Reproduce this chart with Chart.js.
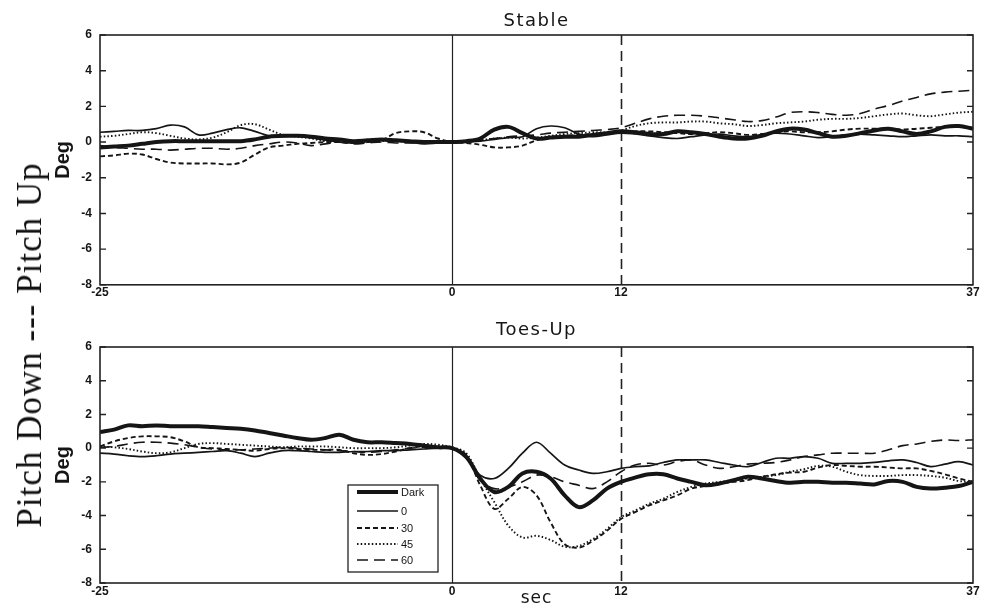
<!DOCTYPE html>
<html>
<head>
<meta charset="utf-8">
<script src="https://cdn.jsdelivr.net/npm/chart.js@4.4.0/dist/chart.umd.min.js"></script>
<style>
  html, body { margin: 0; padding: 0; background: #fff; }
  #page { position: relative; width: 988px; height: 608px; overflow: hidden; }
  .panel { position: absolute; left: 0; width: 988px; }
  #stableBox { top: 0; height: 300px; }
  #toesBox { top: 300px; height: 308px; }
  #sideLabel {
    position: absolute; left: 30px; top: 345px;
    transform: translate(-50%, -50%) rotate(-90deg);
    font-family: "Liberation Serif", "Times New Roman", serif;
    font-size: 35px; letter-spacing: 1px; white-space: nowrap; color: #111;
  }
</style>
</head>
<body>
<div id="page">
  <div class="panel" id="stableBox"><canvas id="stableChart"></canvas></div>
  <div class="panel" id="toesBox"><canvas id="toesChart"></canvas></div>
  <div id="sideLabel">Pitch Down --- Pitch Up</div>
</div>
<script>
// --- Data (seconds, degrees) ---
const time = [-25, -24, -23, -22, -21, -20, -19, -18, -17, -16, -15, -14, -13, -12, -11, -10,
  -9, -8, -7, -6, -5, -4, -3, -2, -1, 0, 1, 2, 3, 4, 5, 6, 7, 8, 9, 10, 11, 12, 13, 14, 15,
  16, 17, 18, 19, 20, 21, 22, 23, 24, 25, 26, 27, 28, 29, 30, 31, 32, 33, 34, 35, 36, 37];

const seriesNames = ['Dark', '0', '30', '45', '60'];
const xTickValues = [-25, 0, 12, 37];
const yMin = -8, yMax = 6, yStep = 2;
const markerLines = [0, 12];

// Stable surface
const stableDark = [-0.3, -0.25, -0.2, -0.1, 0.0, 0.05, 0.05, 0.05, 0.05, 0.05, 0.05, 0.15, 0.3, 0.35, 0.35, 0.3,
  0.2, 0.15, 0.05, 0.1, 0.15, 0.1, 0.05, 0.0, 0.0, 0.0, 0.05, 0.2, 0.7, 0.85, 0.5, 0.2, 0.25, 0.3, 0.3, 0.4, 0.5, 0.6,
  0.55, 0.45, 0.45, 0.6, 0.55, 0.45, 0.3, 0.2, 0.2, 0.35, 0.6, 0.75, 0.7, 0.5, 0.3, 0.35, 0.5, 0.65, 0.75, 0.6, 0.45,
  0.6, 0.85, 0.9, 0.75];
const stable0 = [0.55, 0.6, 0.65, 0.65, 0.75, 0.95, 0.85, 0.4, 0.5, 0.7, 0.8, 0.6, 0.35, 0.3, 0.35, 0.25,
  0.1, 0.0, -0.05, 0.05, 0.1, 0.05, 0.0, -0.1, -0.05, 0.0, 0.0, 0.05, 0.15, 0.25, 0.3, 0.75, 0.9, 0.8, 0.45, 0.3, 0.4,
  0.5, 0.45, 0.35, 0.25, 0.2, 0.3, 0.4, 0.45, 0.35, 0.3, 0.4, 0.5, 0.45, 0.35, 0.25, 0.3, 0.4, 0.45, 0.4, 0.35, 0.3,
  0.35, 0.4, 0.35, 0.35, 0.3];
const stable30 = [-0.8, -0.75, -0.65, -0.7, -0.95, -1.15, -1.2, -1.2, -1.2, -1.25, -1.15, -0.7, -0.3, -0.2, -0.1, -0.05,
  0.0, 0.0, -0.05, 0.0, 0.1, 0.5, 0.6, 0.55, 0.2, 0.0, -0.05, -0.15, -0.3, -0.3, -0.2, 0.1, 0.3, 0.35, 0.4, 0.45, 0.5,
  0.55, 0.6, 0.6, 0.55, 0.5, 0.45, 0.5, 0.55, 0.5, 0.4, 0.45, 0.55, 0.6, 0.55, 0.55, 0.6, 0.7, 0.75, 0.75, 0.75, 0.7,
  0.75, 0.8, 0.85, 0.85, 0.8];
const stable45 = [0.3, 0.35, 0.45, 0.55, 0.5, 0.35, 0.2, 0.15, 0.25, 0.55, 0.95, 1.0, 0.7, 0.4, 0.3, 0.2,
  0.05, 0.1, 0.05, 0.0, 0.05, 0.1, 0.05, 0.0, 0.0, 0.0, 0.0, 0.1, 0.2, 0.25, 0.2, 0.25, 0.35, 0.45, 0.5, 0.55, 0.55,
  0.65, 0.9, 1.05, 1.1, 1.1, 1.15, 1.15, 1.05, 1.0, 0.9, 0.95, 1.05, 1.1, 1.15, 1.25, 1.3, 1.3, 1.35, 1.45, 1.55, 1.6,
  1.5, 1.45, 1.55, 1.65, 1.7];
const stable60 = [-0.2, -0.3, -0.35, -0.4, -0.4, -0.45, -0.4, -0.35, -0.35, -0.4, -0.35, -0.2, -0.1, 0.0, -0.05, -0.2,
  -0.1, 0.0, -0.1, -0.05, 0.0, -0.05, -0.05, 0.0, 0.0, 0.0, 0.05, 0.1, 0.2, 0.3, 0.35, 0.4, 0.5, 0.55, 0.6, 0.65, 0.7,
  0.8, 1.05, 1.3, 1.45, 1.5, 1.5, 1.45, 1.35, 1.25, 1.15, 1.2, 1.4, 1.65, 1.7, 1.65, 1.55, 1.5, 1.6, 1.85, 2.05, 2.3,
  2.5, 2.7, 2.8, 2.85, 2.9];

// Toes-up surface
const toesDark = [0.95, 1.1, 1.35, 1.3, 1.35, 1.3, 1.3, 1.3, 1.25, 1.2, 1.15, 1.05, 0.9, 0.75, 0.6, 0.5,
  0.6, 0.8, 0.5, 0.35, 0.35, 0.3, 0.25, 0.15, 0.05, 0.0, -0.5, -1.8, -2.6, -2.3, -1.5, -1.4, -1.8, -2.8, -3.5, -3.1, -2.4,
  -2.0, -1.75, -1.55, -1.55, -1.8, -2.0, -2.2, -2.1, -1.9, -1.7, -1.8, -1.95, -2.05, -2.0, -2.0, -2.05, -2.05, -2.1,
  -2.15, -1.95, -2.0, -2.3, -2.4, -2.35, -2.25, -2.0];
const toes0 = [-0.3, -0.35, -0.45, -0.5, -0.45, -0.35, -0.3, -0.25, -0.2, -0.15, -0.3, -0.5, -0.3, -0.15, -0.15, -0.2,
  -0.25, -0.25, -0.2, -0.2, -0.15, -0.15, -0.1, -0.05, 0.0, 0.0, -0.6, -1.6, -1.8, -1.2, -0.3, 0.35, -0.3, -1.0, -1.3,
  -1.5, -1.4, -1.2, -1.1, -1.05, -0.85, -0.7, -0.7, -0.7, -0.85, -1.0, -1.1, -0.85, -0.6, -0.6, -0.5, -0.6, -0.9, -0.9,
  -0.9, -0.85, -0.75, -0.7, -0.85, -1.1, -0.95, -0.8, -1.0];
const toes30 = [0.1, 0.4, 0.6, 0.7, 0.7, 0.65, 0.4, 0.05, 0.0, -0.05, -0.1, -0.15, -0.05, 0.0, -0.05, -0.1,
  -0.1, -0.1, -0.3, -0.4, -0.35, -0.2, 0.0, 0.1, 0.05, 0.0, -0.4, -2.2, -3.6, -3.0, -2.3, -2.8, -4.4, -5.7, -5.9, -5.5,
  -4.9, -4.2, -3.8, -3.4, -3.1, -2.8, -2.4, -2.25, -2.1, -2.0, -1.9, -1.7, -1.55, -1.45, -1.4, -1.15, -1.0, -1.05, -1.1,
  -1.1, -1.15, -1.2, -1.2, -1.35, -1.55, -1.8, -2.0];
const toes45 = [0.1, 0.05, -0.05, -0.2, -0.3, -0.25, 0.0, 0.25, 0.3, 0.25, 0.2, 0.15, 0.1, 0.05, 0.1, 0.1,
  0.1, 0.05, 0.0, 0.0, 0.0, 0.05, 0.15, 0.25, 0.2, 0.05, -0.3, -1.8, -3.2, -4.6, -5.3, -5.2, -5.45, -5.85, -5.8, -5.4,
  -4.8, -4.1, -3.7, -3.3, -3.0, -2.6, -2.3, -2.1, -2.0, -1.9, -1.8, -1.7, -1.6, -1.4, -1.25, -1.05, -1.1, -1.4, -1.6,
  -1.65, -1.65, -1.6, -1.6, -1.65, -1.75, -1.95, -2.0];
const toes60 = [0.05, 0.1, 0.25, 0.35, 0.35, 0.3, 0.2, 0.05, -0.05, -0.1, -0.1, -0.05, 0.0, 0.05, 0.0, -0.05,
  -0.1, -0.15, -0.2, -0.25, -0.2, -0.1, 0.0, 0.05, 0.05, 0.0, -0.5, -1.9, -2.4, -2.3, -2.0, -1.6, -1.7, -2.0, -2.2, -2.4,
  -2.0, -1.4, -1.0, -0.9, -1.0, -0.8, -0.7, -1.0, -1.2, -1.1, -0.95, -0.9, -0.85, -0.7, -0.5, -0.4, -0.3, -0.3, -0.3,
  -0.3, -0.1, 0.15, 0.25, 0.4, 0.48, 0.45, 0.5];

// --- Line styles per condition ---
const INK = '#151515';
const lineStyles = {
  'Dark': { width: 4, dash: [] },
  '0':    { width: 1.7, dash: [] },
  '30':   { width: 1.9, dash: [5, 3] },
  '45':   { width: 1.9, dash: [1.5, 2.2] },
  '60':   { width: 1.6, dash: [11, 6] }
};

function buildDatasets(seriesList) {
  return seriesList.map((values, idx) => {
    const name = seriesNames[idx];
    const st = lineStyles[name];
    return {
      label: name,
      data: time.map((t, i) => ({ x: t, y: values[i] })),
      borderColor: INK,
      backgroundColor: 'transparent',
      borderWidth: st.width,
      borderDash: st.dash,
      pointRadius: 0,
      tension: 0.35,
      order: name === 'Dark' ? 0 : 1
    };
  });
}

// --- Panel decoration: frame, inward ticks, marker lines, texts, legend ---
const panelDecor = {
  id: 'panelDecor',
  beforeDatasetsDraw(chart) {
    const { ctx, chartArea: a, scales } = chart;
    ctx.save();
    ctx.strokeStyle = '#222';
    markerLines.forEach(v => {
      const px = Math.round(scales.x.getPixelForValue(v)) + 0.5;
      ctx.lineWidth = v === 0 ? 1.2 : 1.6;
      ctx.setLineDash(v === 0 ? [] : [10, 6]);
      ctx.beginPath();
      ctx.moveTo(px, a.top);
      ctx.lineTo(px, a.bottom);
      ctx.stroke();
    });
    ctx.restore();
  },
  afterDatasetsDraw(chart) {
    const { ctx, chartArea: a, scales } = chart;
    ctx.save();
    ctx.strokeStyle = '#222';
    ctx.lineWidth = 1.6;
    ctx.setLineDash([]);
    ctx.strokeRect(a.left, a.top, a.right - a.left, a.bottom - a.top);
    ctx.lineWidth = 1.4;
    scales.y.ticks.forEach(t => {
      const py = scales.y.getPixelForValue(t.value);
      ctx.beginPath();
      ctx.moveTo(a.left, py); ctx.lineTo(a.left + 6, py);
      ctx.moveTo(a.right, py); ctx.lineTo(a.right - 6, py);
      ctx.stroke();
    });
    ctx.restore();
  },
  afterDraw(chart, args, opts) {
    const { ctx, chartArea: a } = chart;
    const cx = (a.left + a.right) / 2;
    ctx.save();
    ctx.fillStyle = INK;
    ctx.textAlign = 'center';
    ctx.textBaseline = 'alphabetic';
    ctx.font = '18px "DejaVu Sans", sans-serif';
    ctx.letterSpacing = '1.5px';
    ctx.fillText(opts.title, cx, a.top - opts.titleGap);
    if (opts.xLabel) {
      ctx.font = '17px "DejaVu Sans", sans-serif';
      ctx.letterSpacing = '1px';
      ctx.fillText(opts.xLabel, cx, a.bottom + 20);
    }
    ctx.letterSpacing = '0px';
    // y axis name
    ctx.save();
    ctx.translate(a.left - 37, (a.top + a.bottom) / 2);
    ctx.rotate(-Math.PI / 2);
    ctx.textBaseline = 'middle';
    ctx.font = 'bold 20px "Liberation Sans", Arial, sans-serif';
    ctx.fillText('Deg', 0, 0);
    ctx.restore();

    if (opts.legend) {
      const lx = a.left + 248, ly = a.top + 138, w = 90, h = 87;
      const rows = [7, 26, 43, 59, 75];
      ctx.fillStyle = '#fff';
      ctx.fillRect(lx, ly, w, h);
      ctx.strokeStyle = '#222';
      ctx.lineWidth = 1.3;
      ctx.strokeRect(lx, ly, w, h);
      ctx.font = '11px "Liberation Sans", Arial, sans-serif';
      ctx.textAlign = 'left';
      ctx.textBaseline = 'middle';
      chart.data.datasets.forEach((ds, i) => {
        const yy = ly + rows[i];
        ctx.strokeStyle = INK;
        ctx.lineWidth = ds.borderWidth;
        ctx.setLineDash(ds.borderDash);
        ctx.beginPath();
        ctx.moveTo(lx + 9, yy);
        ctx.lineTo(lx + 50, yy);
        ctx.stroke();
        ctx.setLineDash([]);
        ctx.fillStyle = INK;
        ctx.fillText(ds.label, lx + 53, yy + 1);
      });
    }
    ctx.restore();
  }
};

function makePanel(canvasId, seriesList, opts) {
  const ctx = document.getElementById(canvasId).getContext('2d');
  return new Chart(ctx, {
    type: 'line',
    data: { datasets: buildDatasets(seriesList) },
    plugins: [panelDecor],
    options: {
      responsive: true,
      maintainAspectRatio: false,
      animation: false,
      events: [],
      layout: { padding: { top: opts.padTop, right: 15, bottom: 0, left: 0 } },
      plugins: {
        legend: { display: false },
        title: { display: false },
        tooltip: { enabled: false },
        panelDecor: { title: opts.title, titleGap: opts.titleGap, xLabel: opts.xLabel, legend: opts.legend }
      },
      scales: {
        x: {
          type: 'linear',
          min: -25,
          max: 37,
          grid: { display: false, drawTicks: false },
          border: { display: false },
          afterBuildTicks: scale => { scale.ticks = xTickValues.map(v => ({ value: v })); },
          afterFit: scale => { scale.height = opts.xHeight; },
          ticks: {
            autoSkip: false,
            maxRotation: 0,
            padding: 1,
            color: INK,
            font: { family: '"Liberation Sans", Arial, sans-serif', size: 12, weight: 'bold' }
          }
        },
        y: {
          min: yMin,
          max: yMax,
          grid: { display: false, drawTicks: false },
          border: { display: false },
          afterFit: scale => { scale.width = 100; },
          ticks: {
            stepSize: yStep,
            padding: 8,
            color: INK,
            font: { family: '"Liberation Sans", Arial, sans-serif', size: 12, weight: 'bold' }
          }
        }
      }
    }
  });
}

window.addEventListener('DOMContentLoaded', () => {
  makePanel('stableChart', [stableDark, stable0, stable30, stable45, stable60],
    { title: 'Stable', titleGap: 9, xLabel: null, legend: false, padTop: 35, xHeight: 15 });
  makePanel('toesChart', [toesDark, toes0, toes30, toes45, toes60],
    { title: 'Toes-Up', titleGap: 12, xLabel: 'sec', legend: true, padTop: 47, xHeight: 25 });
});
</script>
</body>
</html>
